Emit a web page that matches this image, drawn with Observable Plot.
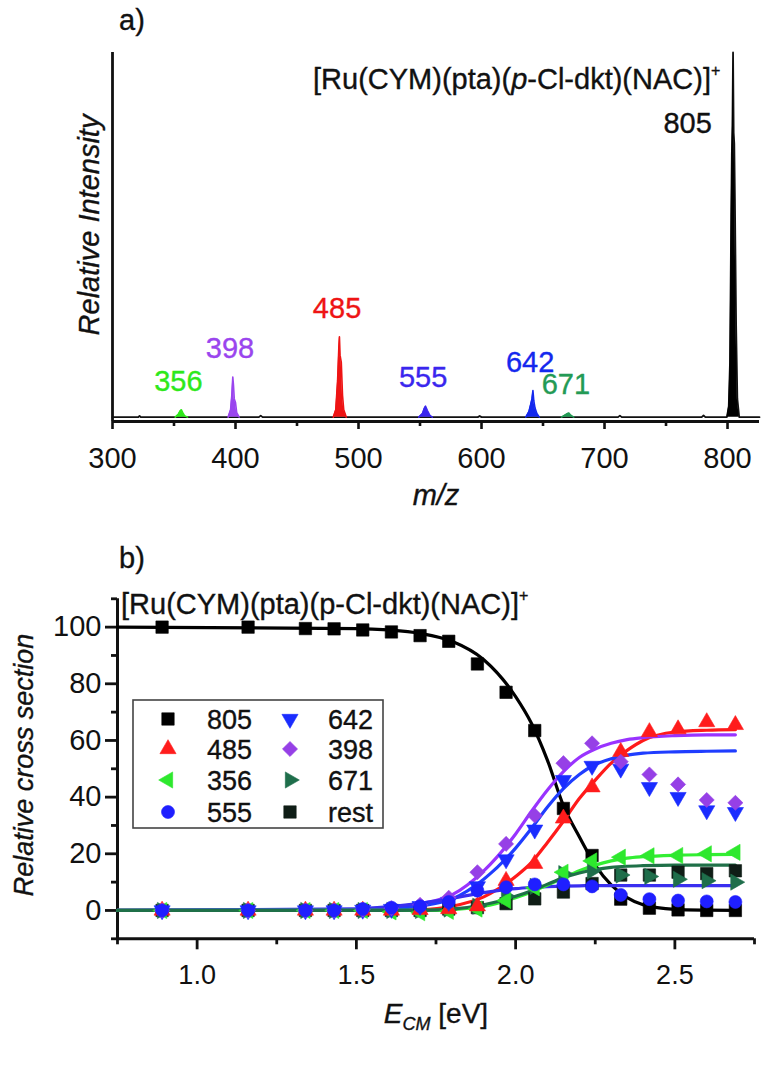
<!DOCTYPE html>
<html><head><meta charset="utf-8">
<script src="https://cdn.jsdelivr.net/npm/d3@7"></script>
<script src="https://cdn.jsdelivr.net/npm/@observablehq/plot@0.6"></script>
<style>
body{margin:0;background:#fff;}
#wrap{position:relative;width:764px;height:1080px;overflow:hidden;font-family:"Liberation Sans",Arial,sans-serif;background:#fff;}
#pa,#pb{position:absolute;left:0;}
#pa{top:0}#pb{top:520px}
#ov{position:absolute;left:0;top:0;pointer-events:none}
svg text{paint-order:stroke;stroke-width:0.35px;}
</style></head><body><div id="wrap"><div id="pa"></div><div id="pb"></div><svg id="ov" width="764" height="1080"></svg></div>
<script>
// ---------- Panel a: mass spectrum ----------
const mzDomain = [300, 826];
const intDomain = [-1.2, 100];
const mzTicksMajor = [300, 400, 500, 600, 700, 800];
const mzTicksMinor = [350, 450, 550, 650, 750];

// black baseline trace (with small noise bumps)
const traceMz  = [300, 321, 322, 323, 419, 420.5, 422, 597, 598.5, 600, 711, 712.5, 714, 779, 780.5, 782, 799.5];
const traceInt = [0,   0,   0.35, 0,  0,   0.4,   0,   0,   0.3,   0,   0,   0.4,   0,   0,   0.45,  0,   0];
// parent ion 805 isotope envelope
const mz805  = [799.5, 801, 802, 803, 803.5, 804, 804.5, 805, 805.5, 806, 807, 808, 809.5];
const int805 = [0,     3,   15,  55,  72,    80,  100,   78,  75,    60,  25,  5,   0];
const traceEndMz = [826];
const traceEndInt = [0];

// fragment peaks
const fragIons   = ["356", "398", "485", "555", "642", "671"];
const fragColors = ["#2ee81a", "#9a45ee", "#ee1414", "#3a26ee", "#1428ee", "#239a55"];
const fragMz = [
  [351, 353.5, 355, 356, 357, 358.5, 361],
  [394, 396, 397, 397.8, 398.3, 399, 400, 401, 403],
  [479.5, 481.5, 483, 484, 484.5, 485, 486, 487, 488, 490],
  [549, 552, 553.5, 554.5, 556, 558, 560],
  [636, 638.5, 640, 641, 641.8, 642.5, 643.5, 645, 647],
  [665, 668, 670, 671, 672.5, 675]
];
const fragInt = [
  [0, 0.8, 1.7, 2, 1.3, 0.4, 0],
  [0, 2, 6, 11, 9, 5, 4, 1.2, 0],
  [0, 2, 10, 19, 22, 17, 15, 6, 2, 0],
  [0, 1, 2.4, 3, 1.8, 0.5, 0],
  [0, 1.5, 3.5, 5, 7.3, 4.5, 2.5, 1, 0],
  [0, 0.6, 1, 1.1, 0.5, 0]
];
const fragLabelMz = [356, 398, 485, 555, 642, 671];

// ---------- Panel b: breakdown curves ----------
const eDomain = [0.75, 2.75];
const csDomain = [-10, 110];
const eTicksMajor = [1.0, 1.5, 2.0, 2.5];
const eTicksMinor = [0.75, 1.25, 1.75, 2.25, 2.75];
const csTicksMajor = [0, 20, 40, 60, 80, 100];
const csTicksMinor = [-10, 10, 30, 50, 70, 90, 110];

const energies = [0.89, 1.16, 1.34, 1.43, 1.52, 1.61, 1.70, 1.79, 1.88, 1.97, 2.06, 2.15, 2.24, 2.33, 2.42, 2.51, 2.60, 2.69];
const s805  = [100, 100, 99.5, 99.4, 99, 98.3, 97, 95, 87, 77, 63.5, 36, 19.4, 4, 0.8, 0.2, 0, 0];
const s485  = [0, 0, 0, 0, 0, 0, 0.2, 0.5, 1.5, 10.5, 16.5, 32.5, 43.5, 56, 63, 64, 66.5, 65.5];
const s356  = [0, 0, 0, 0, 0, -0.5, -0.8, -0.3, 0.5, 3.5, 8, 13.5, 17.5, 18.8, 19.3, 19.4, 20, 20.5];
const s555  = [0, 0, 0, 0, 0.5, 1, 1.5, 3, 7, 8.2, 9.2, 9.2, 8.5, 5.5, 4, 3.5, 3.2, 3];
const s642  = [0, 0, 0, 0, 0.2, 0.5, 1.5, 3, 8.5, 18, 28.5, 46, 51, 50, 43.5, 40, 35.3, 34.7];
const s398  = [0, 0, 0, 0, 0.3, 0.8, 2, 4.5, 13.5, 23.5, 33.5, 52, 59, 52.5, 48, 44.5, 39, 38];
const s671  = [0, 0, 0, 0, 0, 0, 0, 0.5, 1.5, 5, 8.5, 13, 14, 12.5, 12, 11, 10.5, 10];
const sRest = [0, 0, 0, 0, 0, 0, 0, 0.5, 1, 2.4, 4.1, 6.5, 9.5, 12.5, 12.5, 13.5, 13, 14];

const seriesNames  = ["805", "485", "356", "555", "642", "398", "671", "rest"];
const seriesValues = [s805, s485, s356, s555, s642, s398, s671, sRest];
const seriesColors = ["#000000", "#ff1c1c", "#2ee82e", "#1f1fff", "#1a2cff", "#9640e6", "#1f6e4b", "#0f1d16"];
const seriesShapes = ["square", "up", "left", "circle", "down", "diamond", "right", "square"];

// fitted curves
const fitE   = [0.75, 1.5, 1.6, 1.7, 1.8, 1.9, 2.0, 2.05, 2.1, 2.15, 2.2, 2.25, 2.3, 2.35, 2.4, 2.5, 2.6, 2.69];
const f805 = [100, 99.5, 99, 97.8, 95, 88.5, 75.5, 66, 53, 37, 26, 16, 9, 4.5, 2, 0.4, 0.1, 0];
const f485 = [0, 0, 0.1, 0.3, 1.5, 4.8, 12, 17, 24, 31.5, 39.5, 46, 52, 56.5, 60, 63, 63.6, 63.8];
const f398 = [0, 0.3, 1, 2.4, 5.5, 14, 27, 35, 42.5, 49, 54, 57, 59, 60.3, 61, 61.7, 62, 62];
const f642 = [0, 0.2, 0.6, 1.6, 4, 11, 22, 29, 36.5, 43, 48, 51.5, 53.5, 54.8, 55.5, 56, 56.2, 56.3];
const f356 = [0, 0, 0, 0, 0.3, 1.5, 4.5, 6.5, 9, 11.5, 14, 16, 17.5, 18.5, 19, 19.5, 19.7, 19.8];
const f671 = [0, 0, 0, 0.1, 0.5, 2, 5, 7, 9.3, 11.5, 13.2, 14.4, 15.2, 15.6, 15.8, 16, 16, 16];
const f555 = [0, 0.6, 1.3, 2.5, 4.3, 6.3, 7.7, 8.1, 8.4, 8.6, 8.7, 8.8, 8.8, 8.8, 8.8, 8.8, 8.8, 8.8];
const fitNames  = ["805", "485", "398", "642", "555", "356", "671"];
const fitValues = [f805, f485, f398, f642, f555, f356, f671];
const fitColors = ["#000000", "#ff1a1a", "#9933ff", "#1f3dff", "#3a2ff0", "#33ee33", "#1f7048"];

// ---------- symbols ----------
const sq3 = Math.sqrt(3);
function tri(deg) {
  const a = deg * Math.PI / 180, c = Math.cos(a), s = Math.sin(a);
  return {draw(ctx, size) {
    const y = -Math.sqrt(size / (sq3 * 3));
    const p = [[0, 2 * y], [-sq3 * y, -y], [sq3 * y, -y]];
    p.forEach(([x, yy], i) => { const X = x * c - yy * s, Y = x * s + yy * c; if (i) ctx.lineTo(X, Y); else ctx.moveTo(X, Y); });
    ctx.closePath();
  }};
}
const SYM = {square: d3.symbolSquare, up: tri(0), down: tri(180), left: tri(-90), right: tri(90), diamond: d3.symbolDiamond2, circle: d3.symbolCircle};
const SYMR = {square: 7, up: 6, down: 6, left: 6, right: 6, diamond: 6.8, circle: 6.5};

const FONT = "'Liberation Sans', Arial, sans-serif";

// ---------- build panel a ----------
const trace = [];
traceMz.forEach((m, i) => trace.push({mz: m, i: traceInt[i]}));
mz805.forEach((m, i) => trace.push({mz: m, i: int805[i]}));
traceEndMz.forEach((m, i) => trace.push({mz: m, i: traceEndInt[i]}));
const p805 = mz805.map((m, i) => ({mz: m, i: int805[i]}));

const marksA = [
  Plot.ruleX([mzDomain[0]], {stroke: "#111", strokeWidth: 2.8}),
  Plot.ruleY([intDomain[0]], {stroke: "#111", strokeWidth: 2.8}),
  Plot.axisX({ticks: mzTicksMajor, tickSize: 8, tickPadding: 18, fontSize: 29, strokeWidth: 2.6, label: null, tickFormat: d3.format("d")}),
  Plot.axisX({ticks: mzTicksMinor, tickSize: 5, tickPadding: 0, strokeWidth: 2.6, label: null, tickFormat: () => ""}),
  Plot.line(trace, {x: "mz", y: "i", stroke: "#111", strokeWidth: 1.8}),
  Plot.areaY(p805, {x: "mz", y: "i", fill: "#000"})
];
fragIons.forEach((ion, k) => {
  const d = fragMz[k].map((m, i) => ({mz: m, i: fragInt[k][i]}));
  marksA.push(Plot.areaY(d, {x: "mz", y: "i", fill: fragColors[k]}));
  marksA.push(Plot.line(d, {x: "mz", y: "i", stroke: fragColors[k], strokeWidth: 1.6}));
  const top = d3.max(fragInt[k]);
  marksA.push(Plot.text([{mz: fragLabelMz[k], i: top, t: ion}], {x: "mz", y: "i", text: "t", dy: -28, dx: -3, fill: fragColors[k], stroke: fragColors[k], fontSize: 29}));
});
marksA.push(Plot.text([{mz: 805, i: d3.max(int805), t: "805"}], {x: "mz", y: "i", text: "t", dx: -46, dy: 71, fill: "#111", stroke: "#111", fontSize: 29}));

const plotA = Plot.plot({
  width: 764, height: 520,
  marginLeft: 112, marginRight: 5, marginTop: 52, marginBottom: 99,
  x: {domain: mzDomain},
  y: {domain: intDomain, axis: null},
  style: {fontFamily: FONT, fontSize: "29px", color: "#111", background: "transparent", overflow: "visible"},
  marks: marksA
});
document.getElementById("pa").appendChild(plotA);

// ---------- build panel b ----------
const marksB = [
  Plot.ruleX([eDomain[0]], {stroke: "#111", strokeWidth: 3}),
  Plot.ruleY([csDomain[0]], {stroke: "#111", strokeWidth: 3}),
  Plot.axisX({ticks: eTicksMajor, tickSize: 11, tickPadding: 15, fontSize: 27, strokeWidth: 2.8, label: null, tickFormat: d3.format(".1f")}),
  Plot.axisX({ticks: eTicksMinor, tickSize: 6, strokeWidth: 2.8, label: null, tickFormat: () => ""}),
  Plot.axisY({ticks: csTicksMajor, tickSize: 12, tickPadding: 4, fontSize: 29, strokeWidth: 2.8, label: null, tickFormat: d3.format("d")}),
  Plot.axisY({ticks: csTicksMinor, tickSize: 6, strokeWidth: 2.8, label: null, tickFormat: () => ""})
];
fitNames.forEach((n, k) => {
  const d = fitE.map((e, i) => ({E: e, v: fitValues[k][i]}));
  marksB.push(Plot.line(d, {x: "E", y: "v", stroke: fitColors[k], strokeWidth: 3.2, curve: "monotone-x"}));
});
const dotOrder = ["805", "rest", "671", "356", "485", "642", "398", "555"];
dotOrder.forEach(n => {
  const k = seriesNames.indexOf(n);
  const d = energies.map((e, i) => ({E: e, v: seriesValues[k][i]}));
  const sh = seriesShapes[k];
  marksB.push(Plot.dot(d, {x: "E", y: "v", symbol: SYM[sh], r: SYMR[sh], fill: seriesColors[k], stroke: seriesColors[k], strokeWidth: 0.6}));
});

const plotB = Plot.plot({
  width: 764, height: 560,
  marginLeft: 117, marginRight: 10, marginTop: 78.3, marginBottom: 141.7,
  x: {domain: eDomain},
  y: {domain: csDomain},
  style: {fontFamily: FONT, fontSize: "27px", color: "#111", background: "transparent", overflow: "visible"},
  marks: marksB
});
document.getElementById("pb").appendChild(plotB);

// ---------- overlay: panel letters, titles, axis labels, legend ----------
const ov = d3.select("#ov").style("font-family", FONT).attr("fill", "#111").attr("stroke", "#111");
ov.append("text").attr("x", 119).attr("y", 30).attr("font-size", 29).text("a)");
ov.append("text").attr("x", 119).attr("y", 568).attr("font-size", 29).text("b)");

function title(x, y, italicP) {
  const t = ov.append("text").attr("x", x).attr("y", y).attr("font-size", 29);
  t.append("tspan").text("[Ru(CYM)(pta)(");
  t.append("tspan").attr("font-style", italicP ? "italic" : null).text("p");
  t.append("tspan").text("-Cl-dkt)(NAC)]");
  t.append("tspan").attr("font-size", 16).attr("dy", -13).text("+");
}
title(313, 89, true);
title(121, 614, false);

ov.append("text").attr("transform", "translate(99,225) rotate(-90)").attr("text-anchor", "middle")
  .attr("font-size", 29).attr("font-style", "italic").text("Relative Intensity");
ov.append("text").attr("x", 436).attr("y", 505).attr("text-anchor", "middle")
  .attr("font-size", 29).attr("font-style", "italic").text("m/z");
ov.append("text").attr("transform", "translate(33,765) rotate(-90)").attr("text-anchor", "middle")
  .attr("font-size", 27).attr("font-style", "italic").text("Relative cross section");
const xl = ov.append("text").attr("x", 436).attr("y", 1023).attr("text-anchor", "middle").attr("font-size", 28);
xl.append("tspan").attr("font-style", "italic").text("E");
xl.append("tspan").attr("font-style", "italic").attr("font-size", 18).attr("dy", 7).text("CM");
xl.append("tspan").attr("dy", -7).text(" [eV]");

// legend
ov.append("rect").attr("x", 133).attr("y", 700).attr("width", 250).attr("height", 128)
  .attr("fill", "none").attr("stroke", "#444").attr("stroke-width", 1.6);
const legendCols = [["805", "485", "356", "555"], ["642", "398", "671", "rest"]];
const legendColX = [168, 290];
const legendTextX = [207, 328];
const legendRowY = [719, 749, 780, 812];
legendCols.forEach((col, ci) => col.forEach((n, ri) => {
  const k = seriesNames.indexOf(n);
  const sh = seriesShapes[k];
  const r = SYMR[sh];
  ov.append("path").attr("transform", `translate(${legendColX[ci]},${legendRowY[ri]})`)
    .attr("d", d3.symbol(SYM[sh], Math.PI * r * r)())
    .attr("fill", seriesColors[k]).attr("stroke", seriesColors[k]).attr("stroke-width", 0.6);
  ov.append("text").attr("x", legendTextX[ci]).attr("y", legendRowY[ri] + 10).attr("font-size", 27).text(n);
}));
</script>
</body></html>
